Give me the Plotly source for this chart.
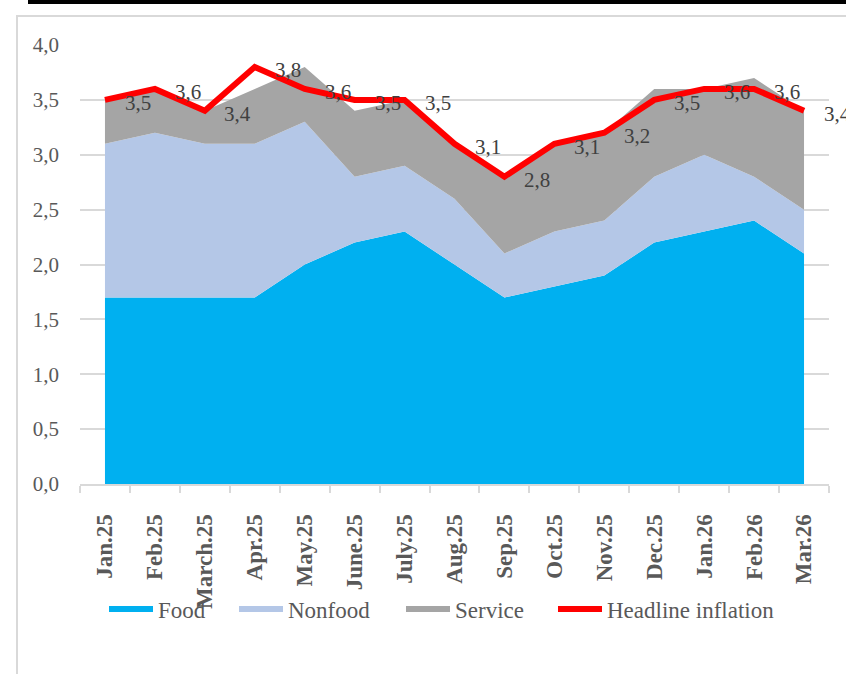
import plotly.graph_objects as go

months = ["Jan.25", "Feb.25", "March.25", "Apr.25", "May.25", "June.25", "July.25",
          "Aug.25", "Sep.25", "Oct.25", "Nov.25", "Dec.25", "Jan.26", "Feb.26", "Mar.26"]
food = [1.7, 1.7, 1.7, 1.7, 2.0, 2.2, 2.3, 2.0, 1.7, 1.8, 1.9, 2.2, 2.3, 2.4, 2.1]
nonfood = [1.4, 1.5, 1.4, 1.4, 1.3, 0.6, 0.6, 0.6, 0.4, 0.5, 0.5, 0.6, 0.7, 0.4, 0.4]
service = [0.4, 0.4, 0.3, 0.5, 0.5, 0.6, 0.6, 0.5, 0.7, 0.8, 0.8, 0.8, 0.6, 0.9, 0.9]
headline = [3.5, 3.6, 3.4, 3.8, 3.6, 3.5, 3.5, 3.1, 2.8, 3.1, 3.2, 3.5, 3.6, 3.6, 3.4]
y_ticks = [0.0, 0.5, 1.0, 1.5, 2.0, 2.5, 3.0, 3.5, 4.0]

FONT = "Liberation Serif"
GRID = "#D9D9D9"

fig = go.Figure()
fig.add_trace(go.Scatter(x=months, y=food, name="Food", stackgroup="one",
                         mode="none", fillcolor="#00B0F0", legend="legend"))
fig.add_trace(go.Scatter(x=months, y=nonfood, name="Nonfood", stackgroup="one",
                         mode="none", fillcolor="#B4C7E7", legend="legend2"))
fig.add_trace(go.Scatter(x=months, y=service, name="Service", stackgroup="one",
                         mode="none", fillcolor="#A5A5A5", legend="legend3"))
fig.add_trace(go.Scatter(x=months, y=headline, name="Headline inflation",
                         mode="lines", line=dict(color="#FF0000", width=6), legend="legend4"))

for m, v in zip(months, headline):
    fig.add_annotation(x=m, y=v, text=f"{v:.1f}".replace(".", ","), showarrow=False,
                       xshift=33, yshift=-3, xanchor="center", yanchor="middle",
                       font=dict(family=FONT, size=21, color="#404040"))

L, R, T, B = 80, 17, 45, 190
W, H = 846, 674
pw, ph = W - L - R, H - T - B

def px_x(p):
    return (p - L) / pw

def px_y(p):
    return (H - B - p) / ph

fig.add_shape(type="rect", xref="paper", yref="paper",
              x0=px_x(17), x1=px_x(870), y0=px_y(700), y1=px_y(16),
              line=dict(color=GRID, width=2), fillcolor="rgba(0,0,0,0)", layer="below")
fig.add_shape(type="line", xref="paper", yref="paper",
              x0=px_x(28), x1=px_x(860), y0=px_y(2), y1=px_y(2),
              line=dict(color="black", width=4))

def leg(xpx):
    return dict(orientation="h", x=px_x(xpx), xanchor="left", y=px_y(609), yanchor="middle",
                font=dict(family=FONT, size=23, color="#595959"),
                itemwidth=44, bgcolor="rgba(0,0,0,0)", borderwidth=0)

fig.update_layout(
    width=W, height=H,
    margin=dict(l=L, r=R, t=T, b=B, autoexpand=False),
    paper_bgcolor="white", plot_bgcolor="white",
    separators=", ",
    showlegend=True,
    legend=leg(104), legend2=leg(234), legend3=leg(401), legend4=leg(553),
    xaxis=dict(type="category", range=[-0.5, 14.5], showgrid=False,
               showline=True, linecolor=GRID, linewidth=2,
               ticks="outside", tickson="boundaries", ticklen=7, tickcolor=GRID, tickwidth=2,
               tickangle=-90, ticklabelstandoff=19,
               tickfont=dict(family=FONT, size=23, color="#595959", weight="bold"),
               automargin=False),
    yaxis=dict(range=[0, 4], tickvals=y_ticks, tickformat=".1f",
               showgrid=True, gridcolor=GRID, gridwidth=2, zeroline=False,
               showline=False, ticks="", ticklabelstandoff=20,
               tickfont=dict(family=FONT, size=21, color="#595959"),
               automargin=False),
)

fig.write_html("out.html", config={"displayModeBar": False},
               post_script="document.body.style.margin='0px';")
